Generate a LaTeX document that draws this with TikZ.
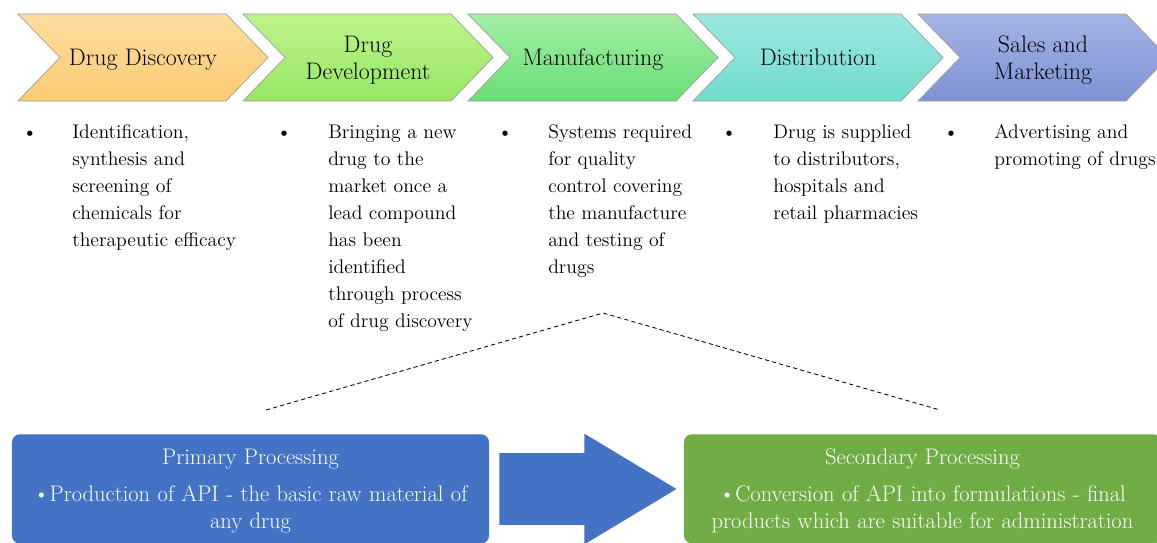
\documentclass[tikz,border=0pt]{standalone}
\usepackage{tikz}
\usetikzlibrary{shapes.symbols, shapes.arrows, positioning, calc}

\definecolor{discTop}{RGB}{254,221,158}
\definecolor{discBot}{RGB}{250,203,116}
\definecolor{devTop}{RGB}{190,244,140}
\definecolor{devBot}{RGB}{150,230,100}
\definecolor{manTop}{RGB}{164,238,164}
\definecolor{manBot}{RGB}{104,222,118}
\definecolor{distTop}{RGB}{156,232,222}
\definecolor{distBot}{RGB}{112,220,204}
\definecolor{saleTop}{RGB}{166,180,228}
\definecolor{saleBot}{RGB}{124,146,212}
\definecolor{primBlue}{RGB}{68,114,196}
\definecolor{secGreen}{RGB}{112,173,71}

\begin{document}
\begin{tikzpicture}[x=0.025cm, y=-0.025cm, font=\fontsize{14}{19.2}\selectfont]
    \tikzstyle{stage} = [signal, signal from=west, signal to=east, signal pointer angle=92, minimum width=6.25cm, minimum height=2.175cm, inner sep=0pt, text depth=0pt, draw=gray!75, line width=0.5pt, align=center, font=\fontsize{17}{19.2}\selectfont]
    \tikzstyle{desc} = [anchor=north west, align=left, inner sep=0pt]
    \tikzstyle{dot} = [anchor=north, inner sep=0pt]
    \tikzstyle{box} = [rectangle, rounded corners=0.2cm, anchor=north, minimum width=11.925cm, text width=11.5cm, inner ysep=0.275cm, align=center, text=white, font=\fontsize{16}{19.2}\selectfont]
    \tikzstyle{link} = [dashed, line width=0.6pt, dash pattern=on 3pt off 2.2pt]

    \clip (0,0) rectangle (1157,542);
    \useasboundingbox (0,0) rectangle (1157,542);

    % Stages
    \node (disc) [stage, top color=discTop, bottom color=discBot] at (143,57.5) {Drug Discovery};
    \node (dev) [stage, top color=devTop, bottom color=devBot] at (368,57.5) {Drug\\Development};
    \node (man) [stage, top color=manTop, bottom color=manBot] at (593,57.5) {Manufacturing};
    \node (dist) [stage, top color=distTop, bottom color=distBot] at (818,57.5) {Distribution};
    \node (sale) [stage, top color=saleTop, bottom color=saleBot] at (1043,57.5) {Sales and\\Marketing};

    % Descriptions
    \node (discTxt) [desc] at (72,119) {\strut Identification,\\synthesis and\\screening of\\chemicals for\\therapeutic efficacy};
    \node (devTxt) [desc] at (328,119) {\strut Bringing a new\\drug to the\\market once a\\lead compound\\has been\\identified\\through process\\of drug discovery};
    \node (manTxt) [desc] at (548,119) {\strut Systems required\\for quality\\control covering\\the manufacture\\and testing of\\drugs};
    \node (distTxt) [desc] at (773,119) {\strut Drug is supplied\\to distributors,\\hospitals and\\retail pharmacies};
    \node (saleTxt) [desc] at (994,119) {\strut Advertising and\\promoting of drugs};

    \node (discDot) [dot] at (30,119) {\strut\textbullet};
    \node (devDot) [dot] at (284,119) {\strut\textbullet};
    \node (manDot) [dot] at (505,119) {\strut\textbullet};
    \node (distDot) [dot] at (729,119) {\strut\textbullet};
    \node (saleDot) [dot] at (951,119) {\strut\textbullet};

    % Processing steps
    \node (prim) [box, fill=primBlue] at (250.5,434) {\strut Primary Processing\\[7pt]\strut\textbullet Production of API - the basic raw material of\\any drug};
    \node (sec) [box, fill=secGreen] at (922.5,434) {\strut Secondary Processing\\[7pt]\strut\textbullet Conversion of API into formulations - final\\products which are suitable for administration};
    \node (flow) [single arrow, fill=primBlue, anchor=tip, inner xsep=0pt, inner ysep=0.8875cm, minimum height=4.425cm, minimum width=2.75cm, single arrow head extend=0.4875cm, single arrow tip angle=62] at (677,489) {};

    % Zoom onto manufacturing
    \coordinate (apex) at (603,313);
    \coordinate (leftEnd) at (266,410);
    \coordinate (rightEnd) at (940,410);
    \draw [link] (leftEnd) -- (apex) -- (rightEnd);
\end{tikzpicture}
\end{document}
